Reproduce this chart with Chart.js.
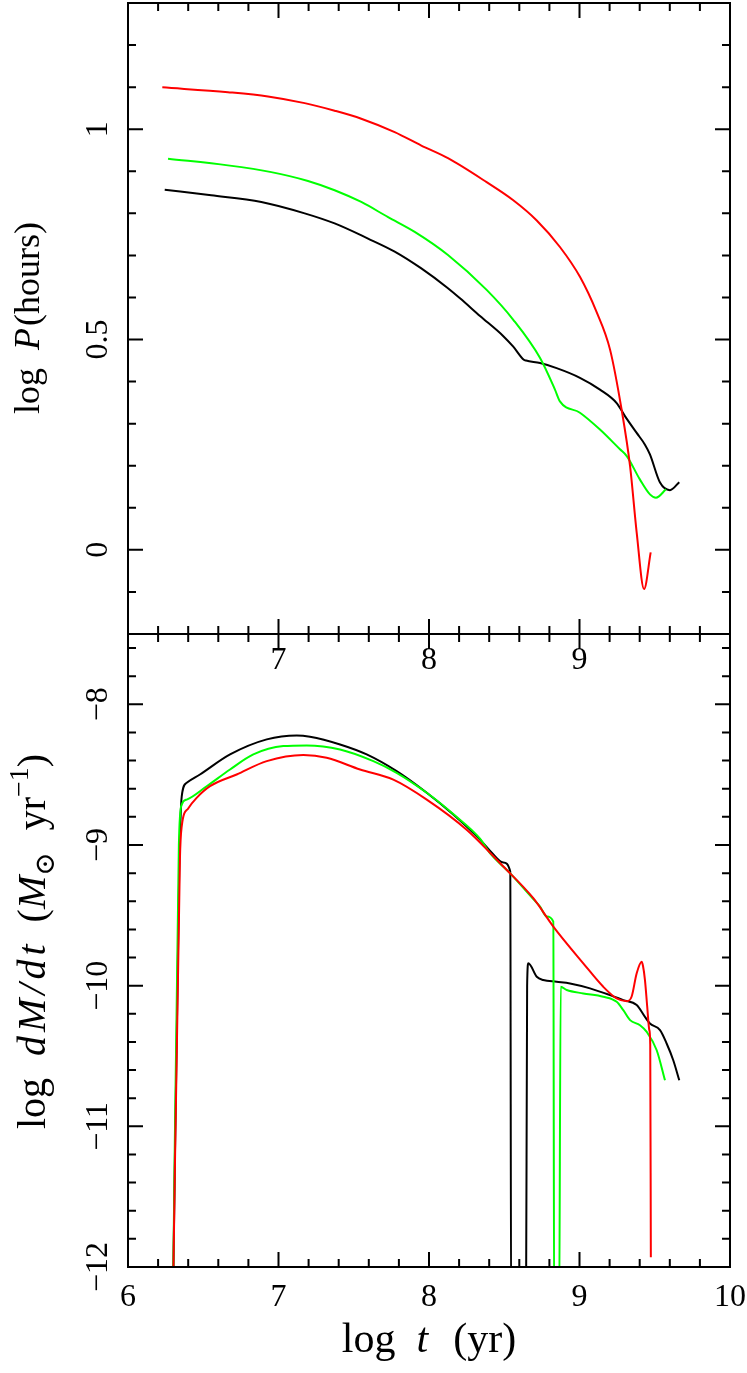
<!DOCTYPE html>
<html>
<head>
<meta charset="utf-8">
<script src="https://cdn.jsdelivr.net/npm/chart.js@4.4.0/dist/chart.umd.min.js"></script>
<style>
  html, body { margin: 0; padding: 0; background: #fff; overflow: hidden; }
  #wrap { position: relative; width: 747px; height: 1373px; }
  #wrap canvas { position: absolute; left: 0; top: 0; }
</style>
</head>
<body>
<div id="wrap">
  <canvas id="lower" width="747" height="1373"></canvas>
  <canvas id="upper" width="747" height="1373"></canvas>
</div>
<script>
// ---- data: top panel, log P(hours) vs log t ----
const tPBlack   = [6.244, 6.553, 6.886, 7.174, 7.373, 7.595, 7.772, 7.949, 8.126, 8.206, 8.339, 8.494, 8.560, 8.630, 8.645, 8.738, 8.848, 9.003, 9.136, 9.247, 9.302, 9.380, 9.435, 9.468, 9.535, 9.601, 9.663];
const logPBlack = [0.856, 0.843, 0.827, 0.800, 0.776, 0.740, 0.709, 0.669, 0.622, 0.598, 0.556, 0.508, 0.483, 0.452, 0.450, 0.444, 0.432, 0.409, 0.381, 0.349, 0.318, 0.278, 0.250, 0.227, 0.160, 0.142, 0.161];

const tPGreen   = [6.266, 6.664, 6.952, 7.196, 7.373, 7.550, 7.728, 7.905, 8.126, 8.383, 8.560, 8.738, 8.837, 8.870, 9.003, 9.136, 9.269, 9.314, 9.402, 9.468, 9.508, 9.575];
const logPGreen = [0.930, 0.914, 0.898, 0.877, 0.855, 0.827, 0.791, 0.756, 0.701, 0.618, 0.547, 0.456, 0.381, 0.353, 0.326, 0.286, 0.239, 0.223, 0.167, 0.132, 0.124, 0.144];

const tPRed     = [6.228, 6.664, 6.930, 7.174, 7.373, 7.550, 7.772, 7.949, 8.126, 8.383, 8.560, 8.716, 8.870, 9.003, 9.114, 9.203, 9.280, 9.336, 9.380, 9.429, 9.473];
const logPRed   = [1.0995, 1.088, 1.078, 1.062, 1.044, 1.025, 0.993, 0.961, 0.931, 0.874, 0.831, 0.783, 0.720, 0.649, 0.565, 0.476, 0.333, 0.199, 0.041, -0.093, -0.006];

// ---- data: bottom panel, log dM/dt vs log t ----
const tMBlack   = [6.298, 6.340, 6.357, 6.390, 6.478, 6.678, 6.922, 7.121, 7.209, 7.409, 7.586, 7.785, 7.985, 8.161, 8.339, 8.405, 8.494, 8.540, 8.546, 8.644, 8.652, 8.660, 8.716, 8.759, 8.848, 8.937, 9.070, 9.203, 9.291, 9.380, 9.435, 9.468, 9.535, 9.579, 9.623, 9.663];
const mdotBlack = [-12.3, -9.20, -8.654, -8.558, -8.499, -8.356, -8.249, -8.221, -8.230, -8.285, -8.356, -8.475, -8.629, -8.784, -8.962, -9.040, -9.125, -9.190, -12.5, -12.5, -10.00, -9.841, -9.937, -9.960, -9.972, -9.984, -10.019, -10.067, -10.103, -10.138, -10.222, -10.269, -10.316, -10.411, -10.530, -10.673];

const tMGreen   = [6.298, 6.338, 6.357, 6.390, 6.523, 6.678, 6.833, 7.032, 7.187, 7.409, 7.630, 7.785, 7.985, 8.161, 8.339, 8.405, 8.538, 8.693, 8.738, 8.782, 8.826, 8.832, 8.864, 8.875, 8.915, 9.025, 9.158, 9.247, 9.291, 9.336, 9.402, 9.447, 9.513, 9.568];
const mdotGreen = [-12.3, -9.00, -8.713, -8.677, -8.582, -8.463, -8.356, -8.297, -8.292, -8.321, -8.404, -8.487, -8.629, -8.780, -8.955, -9.058, -9.200, -9.385, -9.438, -9.509, -9.545, -12.5, -12.5, -10.008, -10.031, -10.055, -10.079, -10.115, -10.174, -10.245, -10.281, -10.329, -10.459, -10.673];

const tMRed     = [6.298, 6.345, 6.357, 6.400, 6.456, 6.545, 6.722, 6.922, 7.165, 7.320, 7.542, 7.763, 7.985, 8.250, 8.494, 8.693, 8.826, 9.025, 9.158, 9.247, 9.314, 9.346, 9.380, 9.413, 9.422, 9.435, 9.450, 9.464, 9.470, 9.474];
const mdotRed   = [-12.3, -9.10, -8.867, -8.740, -8.665, -8.582, -8.499, -8.404, -8.361, -8.380, -8.463, -8.535, -8.677, -8.891, -9.153, -9.378, -9.580, -9.841, -10.008, -10.091, -10.110, -10.079, -9.912, -9.830, -9.860, -9.960, -10.150, -10.316, -10.420, -11.93];

// ---- axes ----
const xRange = [6, 10];
const yRangeP = [-0.2, 1.3];
const yRangeM = [-12, -7.5];
const xTickLabelsTop = [7, 8, 9];
const xTickLabelsBottom = [6, 7, 8, 9, 10];
const yTickLabelsP = [0, 0.5, 1];
const yTickLabelsM = [-12, -11, -10, -9, -8];

const FONT = '"Liberation Serif", "DejaVu Serif", serif';

function pts(ts, vs) {
  return ts.map((t, i) => ({ x: t, y: vs[i] }));
}

function fmt(v) {
  return String(v).replace('-', '\u2212');
}

function tickList(min, max, step, major) {
  const out = [];
  const i0 = Math.ceil(min / step - 1e-6), i1 = Math.floor(max / step + 1e-6);
  for (let i = i0; i <= i1; i++) {
    const v = i * step;
    if (Math.abs(v - min) < 1e-6 || Math.abs(v - max) < 1e-6) continue;
    const r = v / major;
    out.push({ v: v, big: Math.abs(r - Math.round(r)) < 1e-6 });
  }
  return out;
}

// draws a run of text pieces (italic, sub/superscript, gaps, letter spacing)
function richText(ctx, parts, size, cx, cy, vertical) {
  let total = 0;
  const items = parts.map(p => {
    const sz = (p.sup || p.sub) ? size * 0.7 : size;
    const font = (p.it ? 'italic ' : '') + sz + 'px ' + FONT;
    ctx.font = font;
    let w = 0;
    if (p.gap != null) w = p.gap * size;
    else if (p.ls) w = [...p.s].reduce((s, ch) => s + ctx.measureText(ch).width, 0) + p.ls * (p.s.length - 1);
    else w = ctx.measureText(p.s).width;
    total += w;
    return { p: p, font: font, w: w, dy: p.sup ? -size * 0.42 : (p.sub ? size * 0.22 : 0) };
  });
  ctx.save();
  ctx.translate(cx, cy);
  if (vertical) ctx.rotate(-Math.PI / 2);
  ctx.textAlign = 'left';
  ctx.textBaseline = 'alphabetic';
  let xx = -total / 2;
  items.forEach(it => {
    if (it.p.s) {
      ctx.font = it.font;
      if (it.p.ls) {
        let cxx = xx;
        [...it.p.s].forEach(ch => {
          ctx.fillText(ch, cxx, it.dy);
          cxx += ctx.measureText(ch).width + it.p.ls;
        });
      } else {
        ctx.fillText(it.p.s, xx, it.dy);
      }
    }
    xx += it.w;
  });
  ctx.restore();
}

// frame, inward ticks, labels and titles, all placed with the chart's scales
const framePlugin = {
  id: 'frame',
  afterDatasetsDraw(chart, args, o) {
    const { ctx, chartArea: a, scales: { x, y } } = chart;
    ctx.save();
    ctx.strokeStyle = '#000';
    ctx.lineWidth = 2;
    ctx.strokeRect(a.left, a.top, a.right - a.left, a.bottom - a.top);

    ctx.beginPath();
    tickList(x.min, x.max, o.xMinor, o.xMajor).forEach(t => {
      const px = x.getPixelForValue(t.v);
      const len = t.big ? 15 : 8;
      ctx.moveTo(px, a.bottom); ctx.lineTo(px, a.bottom - len);
      ctx.moveTo(px, a.top); ctx.lineTo(px, a.top + len);
    });
    tickList(y.min, y.max, o.yMinor, o.yMajor).forEach(t => {
      const py = y.getPixelForValue(t.v);
      const len = t.big ? 15 : 8;
      ctx.moveTo(a.left, py); ctx.lineTo(a.left + len, py);
      ctx.moveTo(a.right, py); ctx.lineTo(a.right - len, py);
    });
    ctx.stroke();

    ctx.fillStyle = '#000';
    ctx.font = '32px ' + FONT;
    ctx.textAlign = 'center';
    ctx.textBaseline = 'middle';
    o.xLabels.forEach(v => {
      ctx.fillText(fmt(v), x.getPixelForValue(v), a.bottom + o.xLabelGap);
    });
    o.yLabels.forEach(v => {
      ctx.save();
      ctx.translate(a.left - 29, y.getPixelForValue(v));
      ctx.rotate(-Math.PI / 2);
      ctx.fillText(fmt(v), 0, 0);
      ctx.restore();
    });

    if (o.yTitle) richText(ctx, o.yTitle.parts, o.yTitle.size, o.yTitle.x, (a.top + a.bottom) / 2 + o.yTitle.shift, true);
    if (o.xTitle) richText(ctx, o.xTitle.parts, o.xTitle.size, (a.left + a.right) / 2, o.xTitle.y, false);
    ctx.restore();
  }
};

function line(data, color) {
  return { data: data, borderColor: color, borderWidth: 2, pointRadius: 0,
           cubicInterpolationMode: 'monotone', fill: false };
}

function makeChart(id, pad, yRange, datasets, frameOpts) {
  return new Chart(document.getElementById(id), {
    type: 'line',
    data: { datasets: datasets },
    options: {
      responsive: false,
      animation: false,
      events: [],
      layout: { padding: pad, autoPadding: false },
      plugins: { legend: { display: false }, tooltip: { enabled: false }, frame: frameOpts },
      scales: {
        x: { type: 'linear', min: xRange[0], max: xRange[1], display: false, ticks: { display: false },
             afterFit: s => { s.height = 0; } },
        y: { type: 'linear', min: yRange[0], max: yRange[1], display: false, ticks: { display: false },
             afterFit: s => { s.width = 0; } }
      }
    },
    plugins: [framePlugin]
  });
}

// top panel (red drawn on top, black underneath)
makeChart('upper', { left: 128, right: 17, top: 3, bottom: 739 }, yRangeP, [
  line(pts(tPRed, logPRed), '#ff0000'),
  line(pts(tPGreen, logPGreen), '#00ff00'),
  line(pts(tPBlack, logPBlack), '#000000')
], {
  xMinor: 0.2, xMajor: 1, yMinor: 0.1, yMajor: 0.5,
  xLabels: xTickLabelsTop, xLabelGap: 27,
  yLabels: yTickLabelsP,
  yTitle: { size: 36, x: 39, shift: -0.5, parts: [
    { s: 'log' }, { gap: 0.5 }, { s: 'P', it: true }, { gap: 0.05 }, { s: '(hours)' }
  ] }
});

// bottom panel
makeChart('lower', { left: 128, right: 17, top: 634, bottom: 106 }, yRangeM, [
  line(pts(tMRed, mdotRed), '#ff0000'),
  line(pts(tMGreen, mdotGreen), '#00ff00'),
  line(pts(tMBlack, mdotBlack), '#000000')
], {
  xMinor: 0.2, xMajor: 1, yMinor: 0.2, yMajor: 1,
  xLabels: xTickLabelsBottom, xLabelGap: 31,
  yLabels: yTickLabelsM,
  yTitle: { size: 40, x: 45, shift: -9, parts: [
    { s: 'log' }, { gap: 0.55 }, { s: 'dM/dt', it: true, ls: 4 }, { gap: 0.55 },
    { s: '(' }, { s: 'M', it: true }, { s: '\u2299', sub: true }, { gap: 0.55 },
    { s: 'yr' }, { s: '\u22121', sup: true }, { s: ')' }
  ] },
  xTitle: { size: 42, y: 1352, parts: [
    { s: 'log' }, { gap: 0.5 }, { s: 't', it: true }, { gap: 0.6 }, { s: '(yr)' }
  ] }
});
</script>
</body>
</html>
